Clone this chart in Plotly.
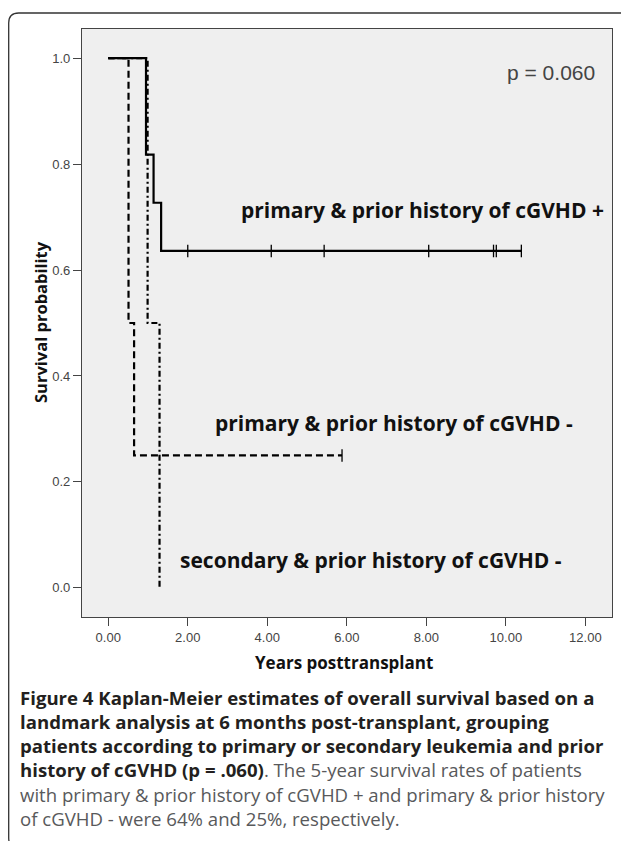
import plotly.graph_objects as go

# ---- data ----
# primary & prior history of cGVHD +
g1_event_times = [0.0, 0.95, 1.14, 1.33]
g1_survival = [1.0, 0.818, 0.727, 0.636]
g1_end_time = 10.39
g1_censor_times = [2.0, 4.1, 5.43, 8.06, 9.69, 9.76, 10.39]

# primary & prior history of cGVHD -
g2_event_times = [0.0, 0.51, 0.65]
g2_survival = [1.0, 0.5, 0.25]
g2_end_time = 5.88
g2_censor_times = [5.88]

# secondary & prior history of cGVHD -
g3_event_times = [0.0, 0.99, 1.29]
g3_survival = [1.0, 0.5, 0.0]
g3_end_time = 1.29
g3_censor_times = []

x_ticks = [0, 2, 4, 6, 8, 10, 12]
x_tick_labels = ["0.00", "2.00", "4.00", "6.00", "8.00", "10.00", "12.00"]
y_ticks = [0.0, 0.2, 0.4, 0.6, 0.8, 1.0]
y_tick_labels = ["0.0", "0.2", "0.4", "0.6", "0.8", "1.0"]

group_labels = ["primary & prior history of cGVHD +",
                "primary & prior history of cGVHD -",
                "secondary & prior history of cGVHD -"]
label_x = [3.30, 2.64, 1.76]
label_y = [0.713, 0.311, 0.053]
p_text = "p = 0.060"

# page body has an 8px margin; lay the figure out in reference pixels minus that
OFF = 8
W, H = 629 - OFF, 853 - 2 * OFF - 4
ML, MR, MT, MB = 82 - OFF, 17, 29 - OFF, H - (617 - OFF)
PW, PH = W - ML - MR, H - MT - MB


def px_x(px):
    return (px - OFF - ML) / PW


def px_y(py):
    return (H - MB - (py - OFF)) / PH


def step_xy(times, surv, end):
    xs, ys = list(times), list(surv)
    if end > xs[-1]:
        xs.append(end)
        ys.append(ys[-1])
    return xs, ys


def surv_at(times, surv, t):
    s = surv[0]
    for tt, ss in zip(times, surv):
        if tt <= t:
            s = ss
    return s


fig = go.Figure()
groups = [
    (g1_event_times, g1_survival, g1_end_time, g1_censor_times, "solid"),
    (g2_event_times, g2_survival, g2_end_time, g2_censor_times, "7px,4px"),
    (g3_event_times, g3_survival, g3_end_time, g3_censor_times, "6px,3px,2px,3px"),
]
for times, surv, end, cens, dash in groups:
    xs, ys = step_xy(times, surv, end)
    fig.add_trace(go.Scatter(x=xs, y=ys, mode="lines", line_shape="hv",
                             line=dict(color="black", width=2.2, dash=dash),
                             showlegend=False, hoverinfo="skip"))
    if cens:
        fig.add_trace(go.Scatter(
            x=cens, y=[surv_at(times, surv, c) for c in cens], mode="markers",
            marker=dict(symbol="line-ns", size=9, line=dict(color="black", width=1.3)),
            showlegend=False, hoverinfo="skip"))

for txt, lx, ly in zip(group_labels, label_x, label_y):
    fig.add_annotation(x=lx, y=ly, text=f"<b>{txt}</b>", showarrow=False,
                       xanchor="left", yanchor="middle",
                       font=dict(family="Open Sans", size=21, color="#111"))

fig.add_annotation(x=11.14, y=0.972, text=p_text, showarrow=False, xanchor="center",
                   yanchor="middle", font=dict(family="Liberation Sans", size=21, color="#444"))

# axis titles
fig.add_annotation(xref="paper", yref="paper", x=px_x(40), y=px_y(322),
                   xanchor="center", yanchor="middle",
                   text="<b>Survival probability</b>", textangle=-90, showarrow=False,
                   font=dict(family="Open Sans", size=16.5, color="#111"))
fig.add_annotation(xref="paper", yref="paper", x=px_x(344), y=px_y(662),
                   xanchor="center", yanchor="middle",
                   text="<b>Years posttransplant</b>", showarrow=False,
                   font=dict(family="Open Sans", size=17, color="#111"))

# caption
caption_lines = [
    "<b>Figure 4 Kaplan-Meier estimates of overall survival based on a</b>",
    "<b>landmark analysis at 6 months post-transplant, grouping</b>",
    "<b>patients according to primary or secondary leukemia and prior</b>",
    "<b>history of cGVHD (p = .060)</b><span style='color:#58595b'>. The 5-year survival rates of patients</span>",
    "<span style='color:#58595b'>with primary &amp; prior history of cGVHD + and primary &amp; prior history</span>",
    "<span style='color:#58595b'>of cGVHD - were 64% and 25%, respectively.</span>",
]
for i, line in enumerate(caption_lines):
    fig.add_annotation(xref="paper", yref="paper", x=px_x(18), y=px_y(697 + 24.3 * i),
                       xanchor="left", yanchor="middle", text=line, showarrow=False,
                       font=dict(family="Open Sans", size=18.6, color="#231f20"))

# rounded outer frame (its right side runs just past the visible page edge)
x0, x1, y0, y1, r = px_x(8.7), px_x(634), px_y(13), px_y(848), 10
rx, ry = r / PW, r / PH
path = (f"M {x0+rx},{y0} L {x1-rx},{y0} Q {x1},{y0} {x1},{y0-ry} "
        f"L {x1},{y1+ry} Q {x1},{y1} {x1-rx},{y1} L {x0+rx},{y1} "
        f"Q {x0},{y1} {x0},{y1+ry} L {x0},{y0-ry} Q {x0},{y0} {x0+rx},{y0} Z")
fig.add_shape(type="path", xref="paper", yref="paper", path=path,
              line=dict(color="#333", width=1.3), layer="below")

axis_common = dict(showgrid=False, zeroline=False, showline=True, mirror=True,
                   linecolor="#444", linewidth=1.3, ticks="outside", ticklen=8,
                   tickcolor="#444", tickwidth=1.2,
                   tickfont=dict(family="Liberation Sans", size=13, color="#444"))
fig.update_xaxes(range=[-0.66, 12.67], tickvals=x_ticks, ticktext=x_tick_labels, **axis_common)
fig.update_yaxes(range=[-0.055, 1.055], tickvals=y_ticks, ticktext=y_tick_labels, **axis_common)

fig.update_layout(width=W, height=H, margin=dict(l=ML, r=MR, t=MT, b=MB),
                  plot_bgcolor="#efefef", paper_bgcolor="white")

fig.write_html("out.html")
